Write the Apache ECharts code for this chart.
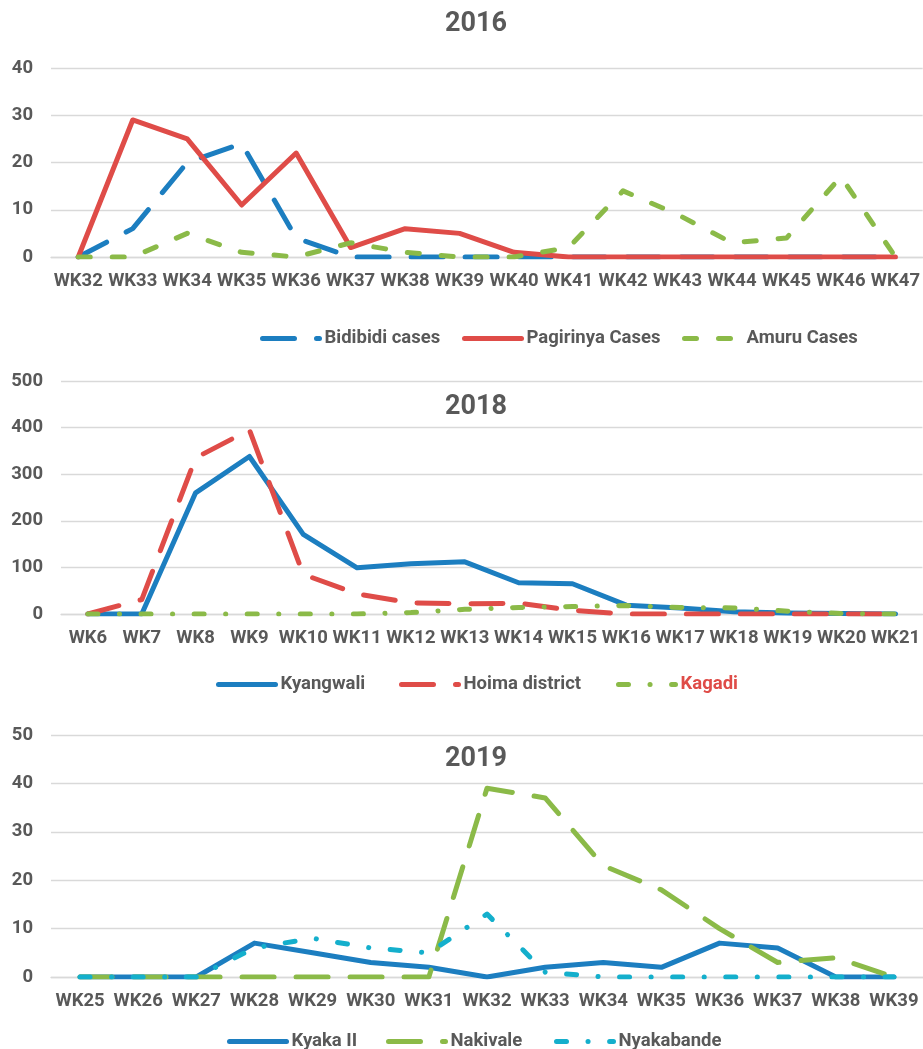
<!DOCTYPE html>
<html>
<head>
<meta charset="utf-8">
<script src="https://cdn.jsdelivr.net/npm/echarts@6/dist/echarts.min.js"></script>
<style>
html,body{margin:0;padding:0;background:#fff;}
#c{width:923px;height:1049px;}
</style>
</head>
<body>
<div id="c"></div>
<script>
// ---- Data ----
const weeks2016 = ['WK32','WK33','WK34','WK35','WK36','WK37','WK38','WK39','WK40','WK41','WK42','WK43','WK44','WK45','WK46','WK47'];
const bidibidi  = [0,6,20,24,4,0,0,0,0,0,0,0,0,0,0,0];
const pagirinya = [0,29,25,11,22,2,6,5,1,0,0,0,0,0,0,0];
const amuru     = [0,0,5,1,0,3,1,0,0,2,14,9,3,4,17,0];

const weeks2018 = ['WK6','WK7','WK8','WK9','WK10','WK11','WK12','WK13','WK14','WK15','WK16','WK17','WK18','WK19','WK20','WK21'];
const kyangwali = [0,0,260,338,171,99,108,112,67,65,19,13,5,2,1,0];
const hoima     = [0,31,335,395,85,43,24,22,23,8,0,0,0,0,0,0];
const kagadi    = [0,0,0,0,0,0,3,10,14,16,18,14,13,6,1,0];

const weeks2019 = ['WK25','WK26','WK27','WK28','WK29','WK30','WK31','WK32','WK33','WK34','WK35','WK36','WK37','WK38','WK39'];
const kyaka      = [0,0,0,7,5,3,2,0,2,3,2,7,6,0,0];
const nakivale   = [0,0,0,0,0,0,0,39,37,23,18,10,3,4,0];
const nyakabande = [0,0,0,6,8,6,5,13,1,0,0,0,0,0,0];

const titles = ['2016','2018','2019'];
const yTicks = [{max:40, interval:10},{max:500, interval:100},{max:50, interval:10}];

// ---- Style ----
const FONT = 'Roboto,"Noto Sans",sans-serif';
const TXT = '#595959';
const BLUE = '#1C7EC0', RED = '#DF4C48', GREEN = '#8BBA48', CYAN = '#14AFCC';
const LONGDASH = [32, 22];
const DASH = [12, 22];
const DASHDOT = [10, 21.5, 0.1, 21.5];
const LW = 5;
const FS = 18.5;

const grids = [
  {left: 51, top: 68, width: 872, height: 189},
  {left: 61, top: 381, width: 865, height: 233},
  {left: 51, top: 735, width: 875, height: 242}
];
const cats = [weeks2016, weeks2018, weeks2019];

function xAxisOf(i){
  return {
    type:'category', gridIndex:i, data:cats[i], boundaryGap:true,
    axisLine:{show:true, lineStyle:{color:'#D9D9D9', width:1.3}},
    axisTick:{show:false},
    axisLabel:{color:TXT, fontFamily:FONT, fontWeight:'bold', fontSize:FS, margin:15, interval:0}
  };
}
function yAxisOf(i){
  return {
    type:'value', gridIndex:i, min:0, max:yTicks[i].max, interval:yTicks[i].interval,
    axisLine:{show:false}, axisTick:{show:false},
    splitLine:{show:true, lineStyle:{color:'#D9D9D9', width:1.3}},
    axisLabel:{color:TXT, fontFamily:FONT, fontWeight:'bold', fontSize:FS, margin:18}
  };
}
function line(name, data, gi, color, type){
  return {
    name, type:'line', data, xAxisIndex:gi, yAxisIndex:gi,
    symbol:'none', showSymbol:false, smooth:false,
    lineStyle:{color, width:LW, type, cap:'round', join:'round'},
    itemStyle:{color},
    emphasis:{disabled:true}
  };
}
function leg(name, left, cy, color){
  return {
    data:[name], left, top: cy - 8, padding:0, itemWidth:57, itemHeight:14, itemGap:0,
    selectedMode:false,
    itemStyle:{color:'transparent', borderColor:'transparent', borderWidth:0},
    lineStyle:{width:LW, cap:'round'},
    textStyle:{color: color || TXT, fontFamily:FONT, fontWeight:'bold', fontSize:FS}
  };
}

const titleY = [22, 405, 757];
const option = {
  animation:false,
  backgroundColor:'#fff',
  title: titles.map((t,i)=>({
    text:t, left:476, top:titleY[i]-11, textAlign:'center', padding:0,
    textStyle:{color:TXT, fontFamily:FONT, fontWeight:'bold', fontSize:27}
  })),
  grid: grids,
  xAxis: [0,1,2].map(xAxisOf),
  yAxis: [0,1,2].map(yAxisOf),
  legend: [
    leg('Bidibidi cases', 260, 337),
    leg('Pagirinya Cases', 462, 337),
    leg('Amuru Cases', 682, 337),
    leg('Kyangwali', 216, 683),
    leg('Hoima district', 399, 683),
    leg('Kagadi', 616, 683, RED),
    leg('Kyaka II', 227, 1040),
    leg('Nakivale', 386, 1040),
    leg('Nyakabande', 554, 1040)
  ],
  series: [
    line('Bidibidi cases', bidibidi, 0, BLUE, LONGDASH),
    line('Pagirinya Cases', pagirinya, 0, RED, 'solid'),
    line('Amuru Cases', amuru, 0, GREEN, DASH),
    line('Kyangwali', kyangwali, 1, BLUE, 'solid'),
    line('Hoima district', hoima, 1, RED, LONGDASH),
    line('Kagadi', kagadi, 1, GREEN, DASHDOT),
    line('Kyaka II', kyaka, 2, BLUE, 'solid'),
    line('Nakivale', nakivale, 2, GREEN, LONGDASH),
    line('Nyakabande', nyakabande, 2, CYAN, DASHDOT)
  ]
};
const chart = echarts.init(document.getElementById('c'), null, {renderer:'canvas'});
chart.setOption(option);
</script>
</body>
</html>
